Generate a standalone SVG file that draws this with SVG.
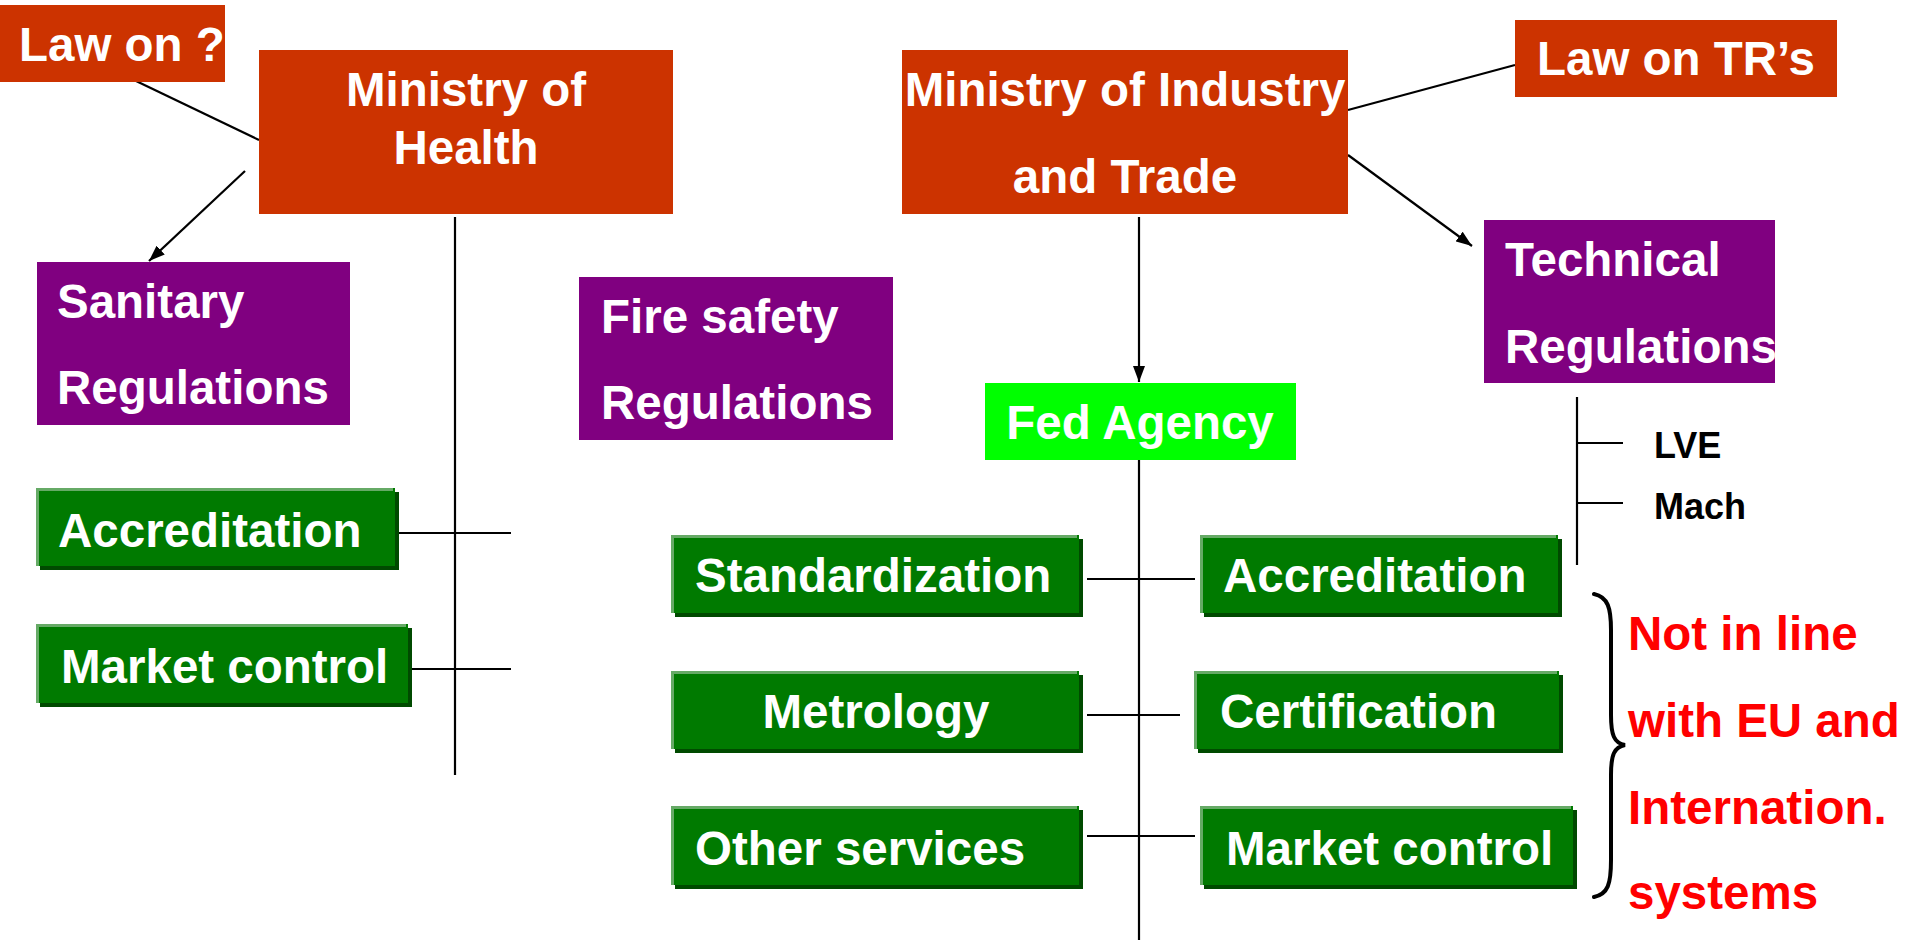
<svg xmlns="http://www.w3.org/2000/svg" width="1911" height="940" viewBox="0 0 1911 940">
<style>
text{font-family:"Liberation Sans",Arial,sans-serif;font-weight:bold;font-size:47.5px;fill:#fff}
.red{fill:#CC3300}
.pur{fill:#800080}
.lime{fill:#00FF00}
.g{fill:#007A00}
.gs{fill:#004A00}
.hl{fill:none;stroke:#66AA66;stroke-width:3}
.ln{stroke:#000;stroke-width:2.2;fill:none}
.brace{stroke:#000;stroke-width:4;fill:none;stroke-linecap:round}
.blk{fill:#000;font-size:36px}
.note{fill:#FF0000}
</style>
<defs>
<marker id="ah" viewBox="0 0 16 12" markerWidth="16" markerHeight="12" refX="16" refY="6" orient="auto" markerUnits="userSpaceOnUse">
<path d="M0,0 L16,6 L0,12 z" fill="#000"/>
</marker>
</defs>
<g id="connectors">
<line class="ln" x1="134" y1="80" x2="259" y2="140"/>
<line class="ln" x1="245" y1="171" x2="149" y2="261" marker-end="url(#ah)"/>
<line class="ln" x1="455" y1="217" x2="455" y2="775"/>
<line class="ln" x1="399" y1="533" x2="511" y2="533"/>
<line class="ln" x1="399" y1="669" x2="511" y2="669"/>
<line class="ln" x1="1348" y1="110" x2="1515" y2="65"/>
<line class="ln" x1="1348" y1="155" x2="1472" y2="246" marker-end="url(#ah)"/>
<line class="ln" x1="1139" y1="217" x2="1139" y2="382" marker-end="url(#ah)"/>
<line class="ln" x1="1139" y1="460" x2="1139" y2="940"/>
<line class="ln" x1="1087" y1="579" x2="1195" y2="579"/>
<line class="ln" x1="1087" y1="715" x2="1180" y2="715"/>
<line class="ln" x1="1087" y1="836" x2="1195" y2="836"/>
<line class="ln" x1="1577" y1="397" x2="1577" y2="565"/>
<line class="ln" x1="1577" y1="443" x2="1623" y2="443"/>
<line class="ln" x1="1577" y1="503" x2="1623" y2="503"/>
<path class="brace" d="M1594,594 C1608,597 1611,608 1611,630 L1611,715 C1611,735 1614,743 1625,745 C1614,747 1611,755 1611,775 L1611,860 C1611,884 1608,894 1594,897"/>
</g>
<g id="law-on">
<rect class="red" x="0" y="5" width="225" height="77"/>
<text x="19" y="61">Law on ?</text>
</g>
<g id="ministry-health">
<rect class="red" x="259" y="50" width="414" height="164"/>
<text x="466" y="106" text-anchor="middle">Ministry of</text>
<text x="466" y="164" text-anchor="middle">Health</text>
</g>
<g id="ministry-industry">
<rect class="red" x="902" y="50" width="446" height="164"/>
<text x="1125" y="106" text-anchor="middle">Ministry of Industry</text>
<text x="1125" y="193" text-anchor="middle">and Trade</text>
</g>
<g id="law-on-trs">
<rect class="red" x="1515" y="20" width="322" height="77"/>
<text x="1537" y="75">Law on TR’s</text>
</g>
<g id="sanitary">
<rect class="pur" x="37" y="262" width="313" height="163"/>
<text x="57" y="318">Sanitary</text>
<text x="57" y="404">Regulations</text>
</g>
<g id="fire-safety">
<rect class="pur" x="579" y="277" width="314" height="163"/>
<text x="601" y="333">Fire safety</text>
<text x="601" y="419">Regulations</text>
</g>
<g id="technical">
<rect class="pur" x="1484" y="220" width="291" height="163"/>
<text x="1505" y="276">Technical</text>
<text x="1505" y="363">Regulations</text>
</g>
<g id="fed-agency">
<rect class="lime" x="985" y="383" width="311" height="77"/>
<text x="1140" y="439" text-anchor="middle">Fed Agency</text>
</g>
<g id="accreditation-left">
<rect class="gs" x="40" y="492" width="359" height="78"/>
<rect class="g" x="36" y="488" width="359" height="78"/>
<polyline class="hl" points="37.5,566 37.5,489.5 393,489.5"/>
<text x="58" y="547">Accreditation</text>
</g>
<g id="market-control-left">
<rect class="gs" x="40" y="628" width="372" height="79"/>
<rect class="g" x="36" y="624" width="372" height="79"/>
<polyline class="hl" points="37.5,703 37.5,625.5 406,625.5"/>
<text x="61" y="683">Market control</text>
</g>
<g id="standardization">
<rect class="gs" x="675" y="539" width="408" height="78"/>
<rect class="g" x="671" y="535" width="408" height="78"/>
<polyline class="hl" points="672.5,613 672.5,536.5 1077,536.5"/>
<text x="695" y="592">Standardization</text>
</g>
<g id="accreditation-right">
<rect class="gs" x="1204" y="539" width="358" height="78"/>
<rect class="g" x="1200" y="535" width="358" height="78"/>
<polyline class="hl" points="1201.5,613 1201.5,536.5 1556,536.5"/>
<text x="1223" y="592">Accreditation</text>
</g>
<g id="metrology">
<rect class="gs" x="675" y="675" width="408" height="78"/>
<rect class="g" x="671" y="671" width="408" height="78"/>
<polyline class="hl" points="672.5,749 672.5,672.5 1077,672.5"/>
<text x="876" y="728" text-anchor="middle">Metrology</text>
</g>
<g id="certification">
<rect class="gs" x="1198" y="675" width="365" height="78"/>
<rect class="g" x="1194" y="671" width="365" height="78"/>
<polyline class="hl" points="1195.5,749 1195.5,672.5 1557,672.5"/>
<text x="1220" y="728">Certification</text>
</g>
<g id="other-services">
<rect class="gs" x="675" y="810" width="408" height="79"/>
<rect class="g" x="671" y="806" width="408" height="79"/>
<polyline class="hl" points="672.5,885 672.5,807.5 1077,807.5"/>
<text x="695" y="865">Other services</text>
</g>
<g id="market-control-right">
<rect class="gs" x="1204" y="810" width="373" height="79"/>
<rect class="g" x="1200" y="806" width="373" height="79"/>
<polyline class="hl" points="1201.5,885 1201.5,807.5 1571,807.5"/>
<text x="1226" y="865">Market control</text>
</g>
<g id="lve">
<text class="blk" x="1654" y="458">LVE</text>
</g>
<g id="mach">
<text class="blk" x="1654" y="519">Mach</text>
</g>
<g id="note">
<text class="note" x="1628" y="650">Not in line</text>
<text class="note" x="1628" y="737">with EU and</text>
<text class="note" x="1628" y="824">Internation.</text>
<text class="note" x="1628" y="909">systems</text>
</g>
</svg>
